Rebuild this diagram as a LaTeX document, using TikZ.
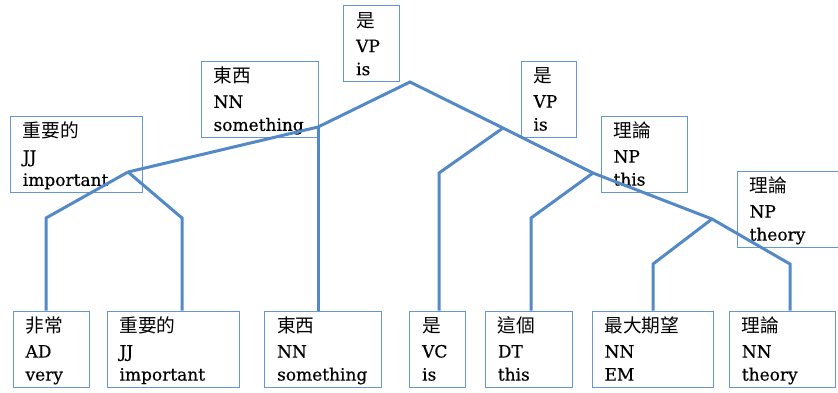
\documentclass[tikz,border=0pt]{standalone}
\usepackage{fontspec}
\setmainfont{DejaVu Serif}[FakeBold=0.4]
\newfontfamily\cjk{Noto Sans CJK TC}[Scale=1.1]
\definecolor{treeblue}{RGB}{84,137,199}
\definecolor{boxblue}{RGB}{100,150,208}
\newcommand\lbl[3]{\rule{0pt}{21.3pt}{\cjk #1}\\[2pt]#2\\#3\rule[-6.7pt]{0pt}{6.7pt}}
\begin{document}
\begin{tikzpicture}[x=1pt,y=-1pt,
  box/.style={draw=boxblue, line width=1.1pt, anchor=north west, inner xsep=12.3pt,
    inner ysep=0pt, minimum height=76pt, align=left,
    font=\fontsize{17pt}{23pt}\selectfont},
  edge/.style={draw=treeblue, line width=3pt, line join=miter}]
\useasboundingbox (0,0) rectangle (838,392);
% internal (phrase) labels
\node[box, text width=30.8pt] (r) at (343.3,5.3) {\lbl{是}{VP}{is}};
\node[box, text width=92.4pt] (a) at (200.7,61) {\lbl{東西}{NN}{something}};
\node[box, text width=107.4pt] (b) at (10,116) {\lbl{重要的}{JJ}{important}};
\node[box, text width=31pt] (c) at (520.7,60.7) {\lbl{是}{VP}{is}};
\node[box, text width=62pt] (d) at (600.7,115.7) {\lbl{理論}{NP}{this}};
\node[box, text width=90pt] (e) at (736.7,170.7) {\lbl{理論}{NP}{theory}};
% leaves
\node[box, text width=52pt] (l1) at (12.7,310.7) {\lbl{非常}{AD}{very}};
\node[box, text width=107.4pt] (l2) at (106.7,310.7) {\lbl{重要的}{JJ}{important}};
\node[box, text width=92.1pt] (l3) at (264.3,310.7) {\lbl{東西}{NN}{something}};
\node[box, text width=30.8pt] (l4) at (409.3,310.7) {\lbl{是}{VC}{is}};
\node[box, text width=62.1pt] (l5) at (485,310.7) {\lbl{這個}{DT}{this}};
\node[box, text width=97pt] (l6) at (591.7,310.7) {\lbl{最大期望}{NN}{EM}};
\node[box, text width=81.4pt] (l7) at (729,310.7) {\lbl{理論}{NN}{theory}};
% tree joints
\coordinate (R) at (410,82);
\coordinate (A) at (318,127);
\coordinate (C) at (503,128);
\coordinate (B) at (128,172);
\coordinate (D) at (593,173);
\coordinate (E) at (712,219);
\coordinate (b1) at (46,218);
\coordinate (b2) at (182,218);
\coordinate (c1) at (439,173);
\coordinate (d1) at (531,218);
\coordinate (e1) at (653,264);
\coordinate (e2) at (790,264);
% edges
\draw[edge] (B) -- (A) -- (R) -- (C) -- (D) -- (E) -- (e2) -- (l7.north -| e2);
\draw[edge] (A) -- (l3.north -| A);
\draw[edge] (B) -- (b1) -- (l1.north -| b1);
\draw[edge] (B) -- (b2) -- (l2.north -| b2);
\draw[edge] (C) -- (c1) -- (l4.north -| c1);
\draw[edge] (D) -- (d1) -- (l5.north -| d1);
\draw[edge] (E) -- (e1) -- (l6.north -| e1);
\end{tikzpicture}
\end{document}
